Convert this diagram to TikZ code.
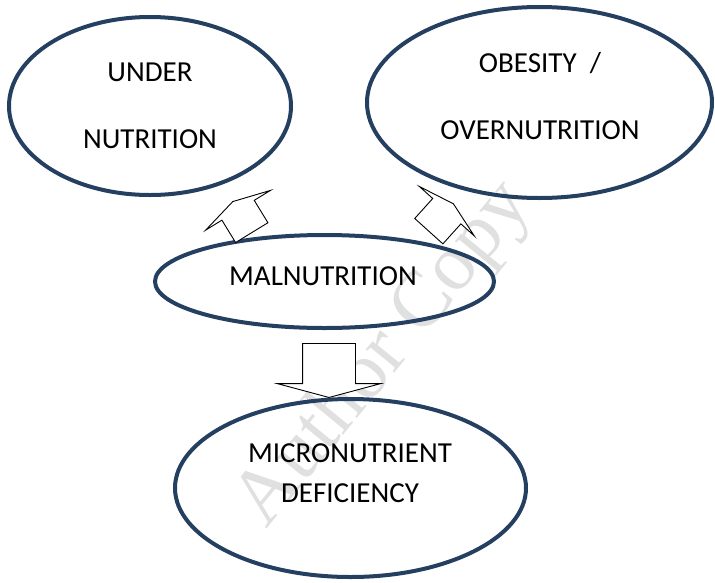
\documentclass[tikz,border=0pt]{standalone}
\usepackage{fontspec}
\setmainfont{Carlito}
\newfontfamily\markfont{Liberation Serif}
\usetikzlibrary{shapes.geometric,shapes.arrows}
\definecolor{ringBlue}{RGB}{36,63,96}

\begin{document}
\begin{tikzpicture}[x=1pt, y=1pt]
    \tikzstyle{bubble} = [ellipse, draw=ringBlue, line width=4pt, inner sep=0pt]
    \tikzstyle{caption} = [font=\fontsize{29}{35}\selectfont, align=center, inner sep=0pt]
    \tikzstyle{block} = [single arrow, draw=black, line width=0.9pt, fill=white, inner xsep=0pt, minimum width=0pt, single arrow tip angle=150, anchor=tail]

    \useasboundingbox (0,0) rectangle (715,-582);

    % faint watermark behind everything
    \node[rotate=50.7, text=black!12, font=\markfont\fontsize{80}{80}\selectfont] (mark) at (385,-355) {Author Copy};

    \node[bubble, minimum width=282, minimum height=178] (under) at (150,-106) {};
    \node[bubble, minimum width=345, minimum height=191] (obese) at (539.5,-102.5) {};
    \node[bubble, minimum width=339, minimum height=93] (mal) at (324.5,-281.5) {};
    \node[bubble, minimum width=351, minimum height=178] (micro) at (350.5,-488) {};

    \node[caption] (underText) at (150,-105.5) {UNDER\\[32pt]NUTRITION};
    \node[caption] (obeseText) at (540,-96.5) {OBESITY~~/\\[32pt]OVERNUTRITION};
    \node[caption] (malText) at (323,-276) {MALNUTRITION};
    \node[caption] (microText) at (350,-473) {MICRONUTRIENT\\[5pt]DEFICIENCY};

    % block arrows
    \node[block, rotate=121.5, inner ysep=18.5pt, single arrow head extend=19pt, minimum height=36.4pt] (toUnder) at (252,-233) {};
    \node[block, rotate=48, inner ysep=18.5pt, single arrow head extend=18pt, minimum height=36.8pt] (toObese) at (428.5,-231.5) {};
    \node[block, rotate=-90, inner ysep=26pt, single arrow head extend=25pt, minimum height=54pt] (toMicro) at (329,-343) {};
\end{tikzpicture}
\end{document}
